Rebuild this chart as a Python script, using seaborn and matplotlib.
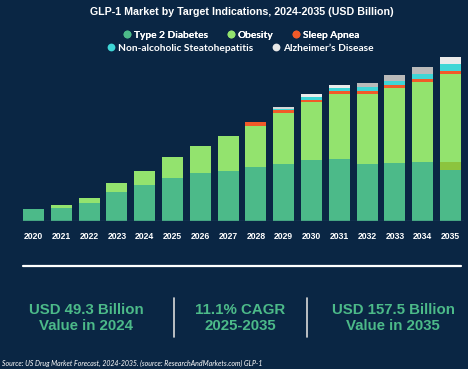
import matplotlib
matplotlib.use("Agg")
import matplotlib.pyplot as plt
import numpy as np
import pandas as pd
import seaborn as sns
from matplotlib.lines import Line2D

YEARS = [str(y) for y in range(2020, 2036)]

# USD billion
T2D = [12.3, 13.0, 18.3, 29.3, 36.3, 43.3, 48.3, 50.3, 54.0, 57.3, 61.3, 62.3, 57.3, 58.3, 59.3, 51.3]
OVERLAP = [0, 0, 0, 0, 0, 0, 0, 0, 0, 0, 0, 0, 0, 0, 0, 8.0]  # olive band on 2035 bar
OBESITY = [0, 3.0, 5.3, 8.7, 14.0, 20.7, 26.7, 35.0, 41.3, 51.3, 58.3, 65.3, 70.3, 75.0, 80.3, 88.3]
SLEEP = [0, 0, 0, 0, 0, 0, 0, 0, 3.7, 2.3, 2.0, 2.7, 2.7, 2.7, 2.7, 2.3]
NASH = [0, 0, 0, 0, 0, 0, 0, 0, 0, 1.7, 3.0, 3.0, 4.0, 4.3, 5.3, 7.3]
ALZ = [0, 0, 0, 0, 0, 0, 0, 0, 0, 1.3, 3.0, 3.0, 4.0, 5.7, 6.3, 7.3]

LEGEND_ROW1 = ["Type 2 Diabetes", "Obesity", "Sleep Apnea"]
LEGEND_ROW2 = ["Non-alcoholic Steatohepatitis", "Alzheimer\u2019s Disease"]

STATS_TOP = ["USD 49.3 Billion", "11.1% CAGR", "USD 157.5 Billion"]
STATS_BOTTOM = ["Value in 2024", "2025-2035", "Value in 2035"]

BG = "#0a2644"
C_T2D = "#4cba89"
C_OLIVE = "#8cc43e"
C_OB = "#93e36e"
C_SLEEP = "#f15a29"
C_NASH = "#3fd6d6"
C_ALZ = "#e8e8e8"
ALZ_BAR_COLORS = ["#e8e8e8"] * 9 + ["#d6d6d6", "#ececec", "#ececec", "#bababa", "#bababa", "#bababa", "#eaeaea"]

sns.set_theme(style="dark")
plt.rcParams["font.family"] = ["Liberation Sans", "DejaVu Sans"]

fig = plt.figure(figsize=(4.68, 3.69), dpi=100, facecolor=BG)
W, H = 468, 369

# axes placed so baseline sits at y=221 px, 1 unit ~ 1 px
ax = fig.add_axes([19.6 / W, (H - 221.3) / H, 444.8 / W, 170 / H])
ax.set_facecolor("none")

layers = [T2D, OVERLAP, OBESITY, SLEEP, NASH, ALZ]
colors = [C_T2D, C_OLIVE, C_OB, C_SLEEP, C_NASH, None]
cum = np.cumsum(np.array(layers, dtype=float), axis=0)

# overdraw cumulative totals from the top layer downward
for i in range(len(layers) - 1, -1, -1):
    df = pd.DataFrame({"year": YEARS, "value": cum[i]})
    if colors[i] is None:
        sns.barplot(data=df, x="year", y="value", hue="year", palette=ALZ_BAR_COLORS,
                    legend=False, width=0.755, saturation=1, linewidth=0, ax=ax)
    else:
        sns.barplot(data=df, x="year", y="value", color=colors[i],
                    width=0.755, saturation=1, linewidth=0, ax=ax)

ax.set_xlim(-0.5, 15.5)
ax.set_ylim(0, 170)
ax.set_xlabel("")
ax.set_ylabel("")
ax.set_yticks([])
ax.grid(False)
for s in ax.spines.values():
    s.set_visible(False)
ax.axhline(0, color="#2c4b68", lw=1.0, zorder=5)
ax.tick_params(axis="x", length=0, pad=7.5, colors="white")
for lbl in ax.get_xticklabels():
    lbl.set_fontsize(6.2)
    lbl.set_fontweight("bold")

fig.text(0.516, 1 - 12 / H, "GLP-1 Market by Target Indications, 2024-2035 (USD Billion)",
         ha="center", va="center", color="white", fontsize=7.7, fontweight="bold")

def handle(c):
    return Line2D([], [], marker="o", ls="", markersize=5.6, markerfacecolor=c, markeredgewidth=0)

leg_kw = dict(frameon=False, handlelength=0.7, handletextpad=0.3, columnspacing=1.9,
              labelcolor="white", prop={"family": "Lato", "size": 7.3, "weight": "bold"},
              borderaxespad=0, borderpad=0, loc="center")
leg1 = fig.legend([handle(C_T2D), handle(C_OB), handle(C_SLEEP)], LEGEND_ROW1, ncol=3,
                  bbox_to_anchor=(241.5 / W, 1 - 35 / H), **leg_kw)
fig.legend([handle(C_NASH), handle(C_ALZ)], LEGEND_ROW2, ncol=2,
           bbox_to_anchor=(240.5 / W, 1 - 48 / H), **leg_kw)
fig.add_artist(leg1)

# lower summary band
fig.add_artist(Line2D([23 / W, 461 / W], [1 - 266 / H] * 2, color="white", lw=1.6))
for x in (174, 307):
    fig.add_artist(Line2D([x / W] * 2, [1 - 298 / H, 1 - 337 / H], color="#d9d9d9", lw=1.2))

for cx, top, bot in zip([86, 240, 393], STATS_TOP, STATS_BOTTOM):
    fig.text(cx / W, 1 - 310 / H, top, ha="center", va="center", color="#4cba89",
             fontsize=10.8, fontweight="bold")
    fig.text(cx / W, 1 - 326.5 / H, bot, ha="center", va="center", color="#4cba89",
             fontsize=10.8, fontweight="bold")

fig.text(2 / W, 1 - 363 / H,
         "Source: US Drug Market Forecast, 2024-2035. (source: ResearchAndMarkets.com) GLP-1",
         ha="left", va="center", color="white", fontsize=5.05, style="italic", family="Lato")

fig.savefig("out.png", dpi=100, facecolor=BG)
